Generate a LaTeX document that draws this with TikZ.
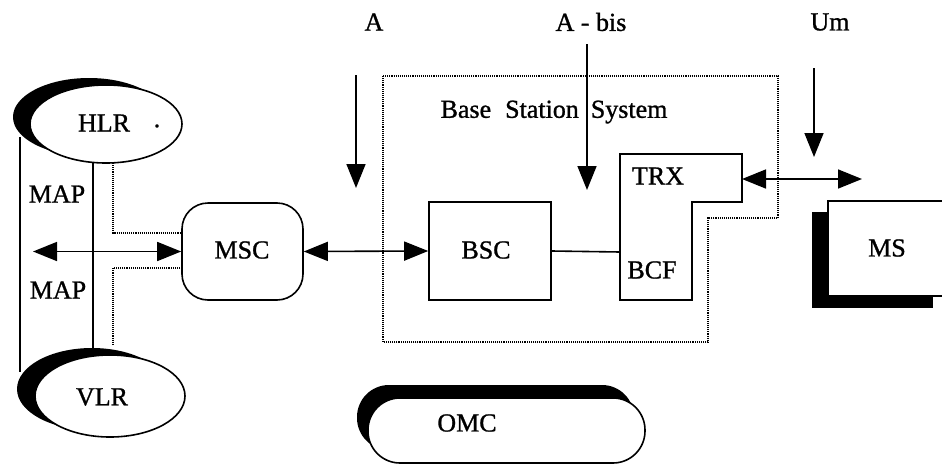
\documentclass[tikz,border=0pt]{standalone}
\usepackage{fontspec}
\setmainfont{Liberation Serif}
\newfontfamily\dfont{Liberation Serif}[FakeBold=1.0]
\usetikzlibrary{arrows.meta,shapes.geometric}
\begin{document}
\begin{tikzpicture}[x=1pt,y=-1pt,
  txt/.style={font=\dfont\fontsize{26}{30}\selectfont, inner sep=0pt},
  outl/.style={draw, line width=1.6pt, fill=white},
  conn/.style={line width=1.6pt},
  tip/.style={-{Triangle[length=24pt,width=19pt]}},
  dtip/.style={{Triangle[length=24pt,width=19pt]}-{Triangle[length=24pt,width=19pt]}},
  dots/.style={line width=1.1pt, densely dotted},
  shadowfill/.style={fill=black}]
\useasboundingbox (0,0) rectangle (942,466);
\clip (0,0) rectangle (942,466);

% ---- HLR
\fill[shadowfill] (89,117) ellipse [x radius=76pt, y radius=39pt];
\node[ellipse, outl, minimum width=152pt, minimum height=78pt, inner sep=0pt] (hlr) at (106,124) {};
\node[txt] (hlrt) at (104,123) {HLR};
\node[txt] (hlrdot) at (157,126) {.};

% ---- VLR
\fill[shadowfill] (92,389) ellipse [x radius=75pt, y radius=41pt];
\node[ellipse, outl, minimum width=150pt, minimum height=82pt, inner sep=0pt] (vlr) at (110,396) {};
\node[txt] (vlrt) at (102,397) {VLR};

% ---- MAP lines
\coordinate (l1) at (20,137);
\coordinate (l2) at (20,372);
\draw[line width=1.3pt] (l1) -- (l2);
\coordinate (t1) at (93,163);
\coordinate (t2) at (93,355);
\draw[line width=2pt] (t1) -- (t2);
\node[txt] (map1) at (57,194) {MAP};
\node[txt] (map2) at (58,290) {MAP};

% ---- MSC
\node[draw, line width=1.6pt, rounded corners=26pt, minimum width=121pt, minimum height=97pt, inner sep=0pt, fill=white] (msc) at (242.5,251.5) {};
\node[txt] (msct) at (242,250) {MSC};

% dotted corridor
\coordinate (d1) at (113,163);
\coordinate (d2) at (113,233);
\coordinate (d3) at (180,233);
\coordinate (d4) at (180,268);
\coordinate (d5) at (113,268);
\coordinate (d6) at (113,345);
\draw[dots] (d1) -- (d2) -- (d3);
\draw[dots] (d4) -- (d5) -- (d6);

% left double arrow
\coordinate (lend) at (33,251.5);
\draw[conn,dtip] (lend) -- (msc.west);

% ---- Base Station System
\coordinate (b1) at (383,76);
\coordinate (b2) at (778,76);
\coordinate (b3) at (778,218);
\coordinate (b4) at (708,218);
\coordinate (b5) at (708,342);
\coordinate (b6) at (383,342);
\draw[dots] (b1) -- (b2) -- (b3) -- (b4) -- (b5) -- (b6) -- cycle;
\node[txt] (bsst) at (554,112) {Base\hspace{14pt}Station\hspace{12pt}System};

% BSC
\node[draw, line width=1.6pt, minimum width=122pt, minimum height=98pt, inner sep=0pt, fill=white] (bsc) at (490,251) {};
\node[txt] (bsct) at (486,250) {BSC};
\draw[conn,dtip] (msc.east) -- (bsc.west);

% TRX / BCF
\coordinate (r1) at (620,154);
\coordinate (r2) at (742,154);
\coordinate (r3) at (742,202);
\coordinate (r4) at (692,202);
\coordinate (r5) at (692,300);
\coordinate (r6) at (620,300);
\draw[line width=1.6pt] (r1) -- (r2) -- (r3) -- (r4) -- (r5) -- (r6) -- cycle;
\node[txt] (trxt) at (658,176) {TRX};
\node[txt] (bcft) at (652,270) {BCF};
\coordinate (bcfl) at (620,252);
\draw[conn] (bsc.east) -- (bcfl);

% ---- interface arrows
\node[txt] (alab) at (374,22) {A};
\coordinate (atop) at (356,75);
\coordinate (abot) at (356,188);
\draw[conn,tip] (atop) -- (abot);

\node[txt] (ablab) at (591,22) {A - bis};
\coordinate (abtop) at (587,44);
\coordinate (abbot) at (587,190);
\draw[conn,tip] (abtop) -- (abbot);

\node[txt] (umlab) at (830,22) {Um};
\coordinate (umtop) at (814,68);
\coordinate (umbot) at (814,157);
\draw[conn,tip] (umtop) -- (umbot);

% TRX - MS arrow
\coordinate (trxr) at (742,179);
\coordinate (msend) at (862,179);
\draw[conn,dtip] (trxr) -- (msend);

% ---- MS
\fill[shadowfill] (812,212) rectangle (933,308);
\node[draw, line width=1.6pt, fill=white, minimum width=140pt, minimum height=95pt, inner sep=0pt, anchor=north west] (ms) at (827,200) {};
\node[txt] (mst) at (887,248) {MS};

% ---- OMC
\fill[shadowfill, rounded corners=32pt] (357,385) rectangle (634,450);
\node[draw, line width=1.6pt, fill=white, rounded corners=32pt, minimum width=277pt, minimum height=65pt, inner sep=0pt] (omc) at (506.5,430.5) {};
\node[txt] (omct) at (467,423) {OMC};
\end{tikzpicture}
\end{document}
